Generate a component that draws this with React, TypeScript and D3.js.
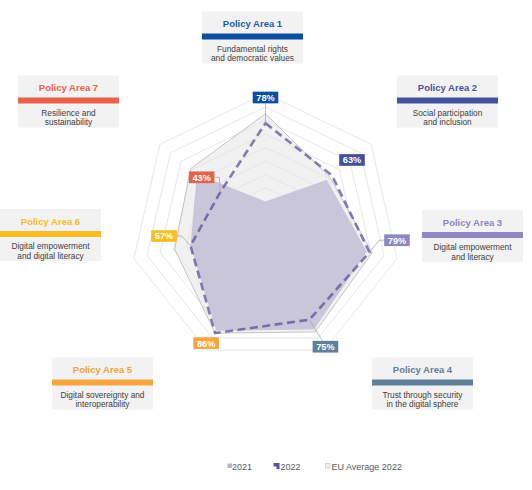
import * as d3 from "d3";

// values
const AREAS = ["Policy Area 1", "Policy Area 2", "Policy Area 3", "Policy Area 4", "Policy Area 5", "Policy Area 6", "Policy Area 7"];
const DESCS = [
  ["Fundamental rights", "and democratic values"],
  ["Social participation", "and inclusion"],
  ["Digital empowerment", "and literacy"],
  ["Trust through security", "in the digital sphere"],
  ["Digital sovereignty and", "interoperability"],
  ["Digital empowerment", "and digital literacy"],
  ["Resilience and", "sustainability"],
];
const V2021 = [20, 58, 77, 83, 84, 57, 65];
const V2022 = [78, 63, 79, 75, 86, 57, 43];
const EU2022 = [85, 61, 81, 85, 86, 69, 71];
const RINGS = [10, 20, 30, 40, 50, 60, 70, 80, 90, 100];
const LEGEND = ["2021", "2022", "EU Average 2022"];

const COLORS = ["#0b4f9e", "#44519c", "#8e87c1", "#5f8099", "#f5a63f", "#fbbd26", "#e5634d"];
const TITLE_COLORS = ["#1c5dac", "#4a539e", "#8c84bf", "#5f7f9a", "#f2a33a", "#f9bb22", "#e4604a"];

// layout of the category boxes (left, top), data-label offsets and leader style
const BOX_POS = [[202, 11.5], [397, 75.5], [422, 210], [372, 357.5], [52, 357.5], [0, 209], [18, 75.5]];
const LABEL_OFF = [[0, -25.7], [20, -15.5], [27.5, -12], [16, 27], [-9, 10], [-26.5, -9.6], [-18.5, -15]];
const LEADER = ["v", "", "h", "top", "", "h", "h"];

const W = 532, H = 490;
const CX = 265.5, CY = 228.5;
const FONT = "Liberation Sans, Arial, sans-serif";

export default function App() {
  const n = AREAS.length;
  const r = d3.scaleLinear().domain([0, 100]).range([0, 135]);
  const ang = (i: number) => (i * 2 * Math.PI) / n;
  const radial = d3.lineRadial<number>()
    .angle((_, i) => ang(i))
    .radius(d => r(d))
    .curve(d3.curveLinearClosed);
  const pt = (v: number, i: number) => [r(v) * Math.sin(ang(i)), -r(v) * Math.cos(ang(i))];

  const bw = 25.6, bh = 11.7;

  return (
    <svg width={W} height={H} style={{ position: "absolute", left: 0, top: 0 }} fontFamily={FONT}>
      <rect width={W} height={H} fill="#fff" />

      {/* category boxes */}
      {AREAS.map((a, i) => {
        const [x, y] = BOX_POS[i];
        return (
          <g key={a} transform={`translate(${x},${y})`}>
            <rect width={101} height={52} fill="#f2f2f2" />
            <text x={50.5} y={15.5} textAnchor="middle" fontSize={9.5} fontWeight="bold" fill={TITLE_COLORS[i]}>{a}</text>
            <rect y={22} width={101} height={6} fill={COLORS[i]} />
            <text x={50.5} y={40} textAnchor="middle" fontSize={8.3} fill="#404040">{DESCS[i][0]}</text>
            <text x={50.5} y={49.5} textAnchor="middle" fontSize={8.3} fill="#404040">{DESCS[i][1]}</text>
          </g>
        );
      })}

      <g transform={`translate(${CX},${CY})`}>
        {/* grid */}
        {RINGS.map(v => (
          <path key={v} d={radial(AREAS.map(() => v)) || ""} fill="none" stroke="#dedede" strokeWidth={0.75} />
        ))}
        {/* EU average */}
        <path d={radial(EU2022) || ""} fill="#e6e6e6" fillOpacity={0.55} stroke="#c4c4c4" strokeWidth={1} />
        {/* 2021 */}
        <path d={radial(V2021) || ""} fill="#c9c6da" />
        {/* 2022 */}
        <path d={radial(V2022) || ""} fill="none" stroke="#54479a" strokeOpacity={0.7} strokeWidth={2.6} strokeDasharray="8 4.5" />

        {/* data labels */}
        {V2022.map((v, i) => {
          const [px, py] = pt(v, i);
          const lx = px + LABEL_OFF[i][0], ly = py + LABEL_OFF[i][1];
          const dx = px - lx, dy = py - ly;
          let leader: string | null = null;
          if (LEADER[i] === "h") {
            const ex = lx + Math.sign(dx) * bw / 2;
            leader = `M${px},${py}L${ex + Math.sign(dx) * 5},${ly}L${ex},${ly}`;
          } else if (LEADER[i] === "v") {
            leader = `M${px},${py}L${lx},${ly + Math.sign(dy) * bh / 2}`;
          } else if (LEADER[i] === "top") {
            leader = `M${px},${py}L${lx - 3},${ly - bh / 2}`;
          }
          return (
            <g key={i}>
              {leader && <path d={leader} fill="none" stroke="#a6a6a6" strokeWidth={0.75} />}
              <rect x={lx - bw / 2} y={ly - bh / 2} width={bw} height={bh} fill={COLORS[i]} />
              <text x={lx} y={ly + 3.4} textAnchor="middle" fontSize={9.2} fontWeight="bold" fill="#fff">{v}%</text>
            </g>
          );
        })}
      </g>

      {/* legend */}
      <g fontSize={9} fill="#595959">
        <rect x={227.5} y={463.5} width={4.5} height={4.5} fill="#b8b4cf" />
        <text x={232} y={469.5}>{LEGEND[0]}</text>
        <path d="M273.5,463 h6 v6 h-3 v-2.5 h-3 z" fill="#5c4f9d" />
        <text x={280.5} y={469.5}>{LEGEND[1]}</text>
        <rect x={325.5} y={463.5} width={4.5} height={4.5} fill="#f2f2f2" stroke="#bfbfbf" strokeWidth={0.6} />
        <text x={331.5} y={469.5}>{LEGEND[2]}</text>
      </g>
    </svg>
  );
}
